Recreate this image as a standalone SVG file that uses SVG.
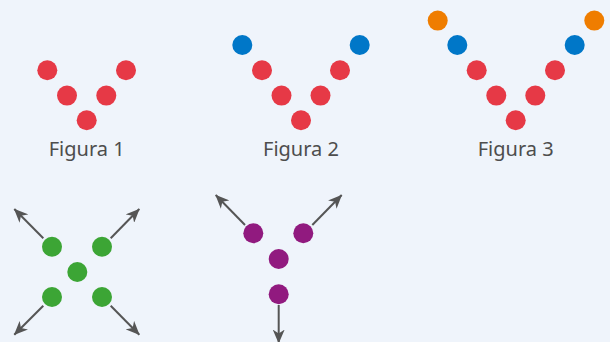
<svg xmlns="http://www.w3.org/2000/svg" width="610" height="342" viewBox="0 0 610 342">
  <style>
    .red { fill: #e63946; }
    .blue { fill: #0077c8; }
    .orange { fill: #ef7d00; }
    .green { fill: #3ca535; }
    .purple { fill: #911a7f; }
    .label { font-family: "Noto Sans", "Open Sans", sans-serif; font-size: 20px; fill: #4d4d4d; text-anchor: middle; }
    .arrow { stroke: #555555; stroke-width: 2; fill: none; marker-end: url(#head); }
  </style>
  <defs>
    <marker id="head" markerUnits="userSpaceOnUse" markerWidth="14" markerHeight="12" viewBox="0 0 14 12" refX="13.5" refY="6" orient="auto">
      <path d="M0,0 L14,6 L0,12 L4,6 z" fill="#555555"/>
    </marker>
  </defs>
  <rect width="610" height="342" fill="#eff4fb"/>

  <!-- Figura 1: five red dots in a V -->
  <g id="figura1">
    <circle class="red" cx="47.3" cy="70.3" r="10"/>
    <circle class="red" cx="67" cy="95.6" r="10"/>
    <circle class="red" cx="86.7" cy="120.3" r="10"/>
    <circle class="red" cx="106.3" cy="95.6" r="10"/>
    <circle class="red" cx="126" cy="70.3" r="10"/>
    <text class="label" x="86.7" y="156">Figura 1</text>
  </g>

  <!-- Figura 2: V extended by two blue dots -->
  <g id="figura2">
    <circle class="blue" cx="242.3" cy="45" r="10"/>
    <circle class="red" cx="262" cy="70.3" r="10"/>
    <circle class="red" cx="281.5" cy="95.6" r="10"/>
    <circle class="red" cx="301" cy="120.3" r="10"/>
    <circle class="red" cx="320.5" cy="95.6" r="10"/>
    <circle class="red" cx="340" cy="70.3" r="10"/>
    <circle class="blue" cx="359.7" cy="45" r="10"/>
    <text class="label" x="301" y="156">Figura 2</text>
  </g>

  <!-- Figura 3: V extended by blue and orange dots -->
  <g id="figura3">
    <circle class="orange" cx="437.7" cy="20.6" r="10"/>
    <circle class="blue" cx="457.3" cy="45" r="10"/>
    <circle class="red" cx="476.7" cy="70.3" r="10"/>
    <circle class="red" cx="496.3" cy="95.6" r="10"/>
    <circle class="red" cx="515.7" cy="120.3" r="10"/>
    <circle class="red" cx="535.3" cy="95.6" r="10"/>
    <circle class="red" cx="555" cy="70.3" r="10"/>
    <circle class="blue" cx="574.7" cy="45" r="10"/>
    <circle class="orange" cx="594.3" cy="20.6" r="10"/>
    <text class="label" x="515.7" y="156">Figura 3</text>
  </g>

  <!-- Green X of five dots -->
  <g id="cruz">
    <circle class="green" cx="52" cy="246.7" r="10"/>
    <circle class="green" cx="102" cy="246.7" r="10"/>
    <circle class="green" cx="77.3" cy="272" r="10"/>
    <circle class="green" cx="52" cy="297" r="10"/>
    <circle class="green" cx="102" cy="297" r="10"/>
  </g>

  <!-- Purple Y of four dots -->
  <g id="ye">
    <circle class="purple" cx="253.3" cy="233.3" r="10"/>
    <circle class="purple" cx="303.3" cy="233.3" r="10"/>
    <circle class="purple" cx="278.7" cy="259" r="10"/>
    <circle class="purple" cx="278.7" cy="294.3" r="10"/>
  </g>

  <!-- Growth directions -->
  <g id="flechas">
    <line class="arrow" x1="43.3" y1="238.3" x2="14.3" y2="209"/>
    <line class="arrow" x1="110.7" y1="238.3" x2="139.3" y2="209"/>
    <line class="arrow" x1="43.3" y1="305.7" x2="14.3" y2="334.7"/>
    <line class="arrow" x1="110.7" y1="305.7" x2="139.3" y2="334.7"/>
    <line class="arrow" x1="245" y1="225" x2="215.7" y2="195"/>
    <line class="arrow" x1="312.3" y1="225" x2="341.7" y2="195"/>
    <line class="arrow" x1="278.7" y1="305" x2="278.7" y2="343"/>
  </g>
</svg>
